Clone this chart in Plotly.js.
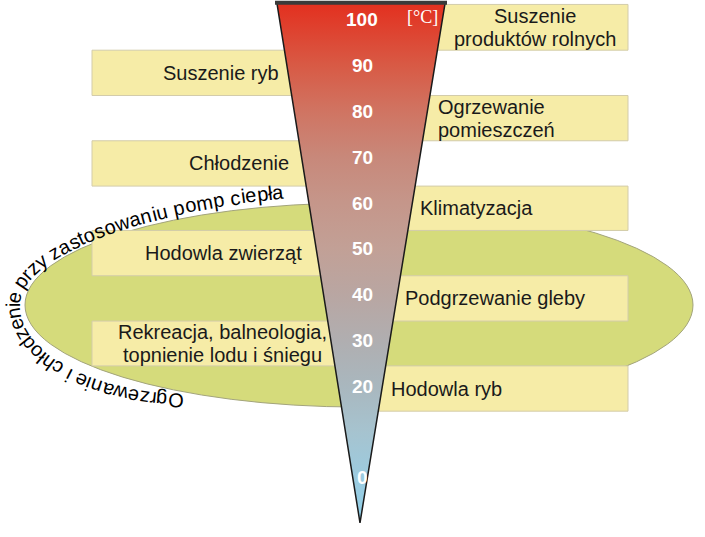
<!DOCTYPE html>
<html><head><meta charset="utf-8">
<script src="https://cdn.plot.ly/plotly-3.0.1.min.js"></script>
<style>html,body{margin:0;padding:0;background:#fff}#chart{width:705px;height:537px}</style>
</head><body><div id="chart"></div>
<script>
// ---------------- data ----------------
const scaleTicks = [100, 90, 80, 70, 60, 50, 40, 30, 20, 0];
const unitLabel = "[°C]";
const applications = [
  "Suszenie<br>produktów rolnych", "Suszenie ryb", "Ogrzewanie<br>pomieszczeń",
  "Chłodzenie", "Klimatyzacja", "Hodowla zwierząt", "Podgrzewanie gleby",
  "Rekreacja, balneologia,<br>topnienie lodu i śniegu", "Hodowla ryb"
];
const bandTop    = [103.4, 93.4, 83.5, 73.6, 63.7, 54.0, 44.1, 34.2, 24.4];
const bandBottom = [93.4, 83.5, 73.6, 63.7, 54.0, 44.1, 34.2, 24.4, 14.5];
const bandSide   = ["right", "left", "right", "left", "right", "left", "right", "left", "right"];
const heatPumpRange = [15.4, 60.0];
const heatPumpLabel = "Ogrzewanie i chłodzenie przy zastosowaniu pomp ciepła";
const scaleTop = 103.6, scaleBottom = -9.9;

// ---------------- layout helpers ----------------
const W = 705, H = 537;
const yMax = 104.37, yMin = -13.0;
const pxPerDeg = H / (yMax - yMin);
const px2T = py => yMax - py / pxPerDeg;

const FONT = "Liberation Sans, Arial, sans-serif";
const labelStyle = [
  {x: 535, anchor: "center"}, {x: 281, anchor: "right"}, {x: 436, anchor: "left"},
  {x: 291, anchor: "right"}, {x: 418, anchor: "left"}, {x: 304, anchor: "right"},
  {x: 403, anchor: "left"}, {x: 222, anchor: "center"}, {x: 389, anchor: "left"}
];

const shapes = [];
// heat-pump ellipse
shapes.push({type: "circle", xref: "x", yref: "y", x0: 25, x1: 693,
  y0: heatPumpRange[0], y1: heatPumpRange[1], fillcolor: "#d5db7b",
  line: {color: "#a3a47c", width: 1}, layer: "below"});
// application boxes
applications.forEach((a, i) => {
  const left = bandSide[i] === "left";
  shapes.push({type: "rect", xref: "x", yref: "y",
    x0: left ? 92 : 360, x1: left ? 360 : 628,
    y0: bandBottom[i], y1: bandTop[i], fillcolor: "#f6eca7",
    line: {color: "#d3ccaa", width: 1}, layer: "below"});
});

const annotations = [];
applications.forEach((a, i) => {
  const lines = a.split("<br>");
  const cT = (bandTop[i] + bandBottom[i]) / 2;
  const lh = 23 / pxPerDeg;
  lines.forEach((ln, k) => {
    const off = (k - (lines.length - 1) / 2) * lh;
    annotations.push({x: labelStyle[i].x, y: cT - off, xref: "x", yref: "y",
      text: ln, showarrow: false, xanchor: labelStyle[i].anchor, yanchor: "middle",
      font: {family: FONT, size: 20, color: "#1a1a1a"}});
  });
});
scaleTicks.forEach(t => {
  annotations.push({x: 362, y: t, xref: "x", yref: "y", text: String(t), showarrow: false,
    xanchor: "center", yanchor: "middle",
    font: {family: FONT, size: 19, color: "#ffffff", weight: "bold"}});
});
annotations.push({x: 422, y: px2T(16.5), xref: "x", yref: "y", text: unitLabel, showarrow: false,
  xanchor: "center", yanchor: "middle",
  font: {family: "Liberation Serif, Times New Roman, serif", size: 18, color: "#ffffff"}});

// ---------------- curved label ----------------
(function () {
  const cy = 305, xl = 13;
  const aB = 175, bB = 96, aT = 400, bT = 120;
  const cxB = xl + aB, cxT = xl + aT;
  const xStart = 184, xEnd = 284;
  const t0 = Math.acos(Math.max(-1, Math.min(1, (xStart - cxB) / aB)));
  const t1 = 2 * Math.PI - Math.acos((xEnd - cxT) / aT);
  const pts = [];
  const N = 600;
  for (let i = 0; i <= N; i++) {
    const t = t0 + (Math.PI - t0) * i / N;
    pts.push([cxB + aB * Math.cos(t), cy + bB * Math.sin(t)]);
  }
  for (let i = 1; i <= N; i++) {
    const t = Math.PI + (t1 - Math.PI) * i / N;
    pts.push([cxT + aT * Math.cos(t), cy + bT * Math.sin(t)]);
  }
  const cum = [0];
  for (let i = 1; i < pts.length; i++) {
    cum.push(cum[i - 1] + Math.hypot(pts[i][0] - pts[i - 1][0], pts[i][1] - pts[i - 1][1]));
  }
  const L = cum[cum.length - 1];
  const ctx = document.createElement("canvas").getContext("2d");
  const fsize = 20;
  ctx.font = fsize + "px 'Liberation Sans'";
  const chars = Array.from(heatPumpLabel);
  const widths = chars.map(c => ctx.measureText(c).width);
  const total = widths.reduce((a, b) => a + b, 0);
  const k = L / total;
  let acc = 0, j = 0;
  chars.forEach((c, i) => {
    const s = (acc + widths[i] / 2) * k;
    acc += widths[i];
    if (c === " ") return;
    while (j < cum.length - 2 && cum[j + 1] < s) j++;
    const f = (s - cum[j]) / Math.max(1e-9, cum[j + 1] - cum[j]);
    const x = pts[j][0] + f * (pts[j + 1][0] - pts[j][0]);
    const y = pts[j][1] + f * (pts[j + 1][1] - pts[j][1]);
    const ang = Math.atan2(pts[j + 1][1] - pts[j][1], pts[j + 1][0] - pts[j][0]) * 180 / Math.PI;
    annotations.push({x: x, y: px2T(y), xref: "x", yref: "y", text: c, showarrow: false,
      xanchor: "center", yanchor: "middle", textangle: ang, borderpad: 0,
      font: {family: FONT, size: fsize, color: "#000000"}});
  });
})();

// ---------------- traces ----------------
const traces = [
  {type: "scatter", mode: "lines", x: [277, 360, 445], y: [scaleTop, scaleBottom, scaleTop],
    fill: "toself",
    fillgradient: {type: "vertical", start: scaleBottom, stop: scaleTop,
      colorscale: [
        [0.000, "#8ecfe8"], [0.088, "#9ccbdf"], [0.176, "#a6c3cf"], [0.264, "#a9b7be"],
        [0.352, "#b0aeb0"], [0.441, "#b9a6a2"], [0.529, "#c2a096"], [0.617, "#c5968a"],
        [0.705, "#c8887a"], [0.793, "#d07462"], [0.881, "#d85a45"], [1.000, "#e3301f"]
      ]},
    line: {color: "#1a1a1a", width: 1.5}, hoverinfo: "skip", showlegend: false},
  {type: "scatter", mode: "lines", x: [275, 447], y: [scaleTop + 0.15, scaleTop + 0.15],
    line: {color: "#3a3a3a", width: 4}, hoverinfo: "skip", showlegend: false}
];

const layout = {
  width: W, height: H, margin: {l: 0, r: 0, t: 0, b: 0},
  paper_bgcolor: "#ffffff", plot_bgcolor: "#ffffff", showlegend: false,
  xaxis: {range: [0, W], visible: false, fixedrange: true},
  yaxis: {range: [yMin, yMax], visible: false, fixedrange: true},
  shapes: shapes, annotations: annotations, hovermode: false
};
Plotly.newPlot("chart", traces, layout, {staticPlot: true, displayModeBar: false});
</script></body></html>
